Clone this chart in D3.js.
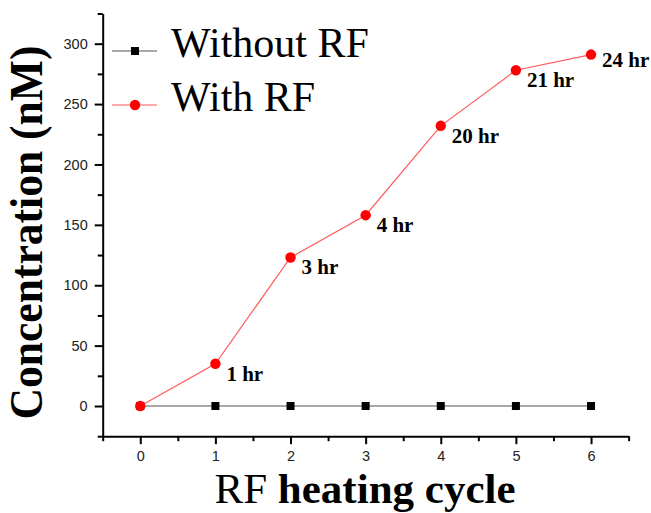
<!DOCTYPE html>
<html>
<head>
<meta charset="utf-8">
<script src="https://cdn.jsdelivr.net/npm/d3@7"></script>
<style>
  html, body { margin: 0; padding: 0; background: #fff; }
  svg { display: block; }
</style>
</head>
<body>
<svg id="chart" width="651" height="513"></svg>
<script>
// ---- data ----
const cycles = [0, 1, 2, 3, 4, 5, 6];
const withoutRF = [0, 0, 0, 0, 0, 0, 0];
const withRF = [0, 35, 123, 158, 232, 278, 291];
const withRFLabels = ["", "1 hr", "3 hr", "4 hr", "20 hr", "21 hr", "24 hr"];
const xTicks = [0, 1, 2, 3, 4, 5, 6];
const yTicks = [0, 50, 100, 150, 200, 250, 300];
const seriesNames = ["Without RF", "With RF"];

// ---- layout ----
const svg = d3.select("#chart");
const x = d3.scaleLinear().domain([-0.5, 6.5]).range([102.7, 628.6]);
const y = d3.scaleLinear().domain([-25, 325]).range([436.2, 13.5]);

const serif = "'Liberation Serif', 'Times New Roman', serif";
const sans = "'Liberation Sans', Arial, sans-serif";

// minor ticks
const xMinor = d3.range(-0.5, 6.51, 1);
const yMinor = d3.range(-25, 326, 50);

function styleAxis(g) {
  g.selectAll("path.domain").attr("stroke", "#000").attr("stroke-width", 2);
  g.selectAll(".tick line").attr("stroke", "#000").attr("stroke-width", 2);
  g.selectAll(".tick text").attr("fill", "#222").style("font-family", sans).style("font-size", "14.5px");
}

// X axis
const gx = svg.append("g").attr("transform", `translate(0,${y(-25)})`);
gx.call(d3.axisBottom(x).tickValues(xTicks).tickSize(8).tickSizeOuter(0).tickPadding(7).tickFormat(d3.format("d")));
styleAxis(gx);
const gxm = svg.append("g").attr("transform", `translate(0,${y(-25)})`);
gxm.call(d3.axisBottom(x).tickValues(xMinor).tickSize(5).tickSizeOuter(0).tickFormat(""));
styleAxis(gxm);
gxm.select("path.domain").remove();

// Y axis
const gy = svg.append("g").attr("transform", `translate(${x(-0.5)},0)`);
gy.call(d3.axisLeft(y).tickValues(yTicks).tickSize(8).tickSizeOuter(0).tickPadding(7).tickFormat(d3.format("d")));
styleAxis(gy);
const gym = svg.append("g").attr("transform", `translate(${x(-0.5)},0)`);
gym.call(d3.axisLeft(y).tickValues(yMinor).tickSize(5).tickSizeOuter(0).tickFormat(""));
styleAxis(gym);
gym.select("path.domain").remove();

// lines
const line = d3.line().x((d, i) => x(cycles[i])).y(d => y(d));
svg.append("path").datum(withoutRF).attr("d", line)
  .attr("fill", "none").attr("stroke", "#555").attr("stroke-width", 1.2);
svg.append("path").datum(withRF).attr("d", line)
  .attr("fill", "none").attr("stroke", "#ff5a5a").attr("stroke-width", 1.2);

// markers
svg.selectAll("rect.sq").data(withoutRF).enter().append("rect")
  .attr("class", "sq")
  .attr("x", (d, i) => x(cycles[i]) - 4).attr("y", d => y(d) - 4)
  .attr("width", 8).attr("height", 8).attr("fill", "#000");
svg.selectAll("circle.ci").data(withRF).enter().append("circle")
  .attr("class", "ci")
  .attr("cx", (d, i) => x(cycles[i])).attr("cy", d => y(d))
  .attr("r", 5.2).attr("fill", "#ff0000");

// point labels
svg.selectAll("text.lab").data(withRF).enter().append("text")
  .attr("class", "lab")
  .attr("x", (d, i) => x(cycles[i]) + 11)
  .attr("y", (d, i) => y(d) + (i === 6 ? 12 : 17))
  .style("font-family", serif).style("font-weight", "bold").style("font-size", "21px")
  .attr("fill", "#000")
  .text((d, i) => withRFLabels[i]);

// legend
const legend = svg.append("g");
const legendItems = [
  { name: seriesNames[0], color: "#555", cy: 51, marker: "square" },
  { name: seriesNames[1], color: "#ff5a5a", cy: 105, marker: "circle" }
];
legendItems.forEach(it => {
  legend.append("line").attr("x1", 112).attr("x2", 157).attr("y1", it.cy).attr("y2", it.cy)
    .attr("stroke", it.color).attr("stroke-width", 1.2);
  if (it.marker === "square") {
    legend.append("rect").attr("x", 131).attr("y", it.cy - 4).attr("width", 8).attr("height", 8).attr("fill", "#000");
  } else {
    legend.append("circle").attr("cx", 135).attr("cy", it.cy).attr("r", 5.2).attr("fill", "#ff0000");
  }
  legend.append("text").attr("x", 171).attr("y", it.cy + 6)
    .style("font-family", serif).style("font-size", "42px").attr("fill", "#000")
    .text(it.name);
});

// axis titles
const xt = svg.append("text").attr("x", 365).attr("y", 503)
  .attr("text-anchor", "middle")
  .style("font-family", serif).style("font-size", "43px").attr("fill", "#000");
xt.append("tspan").text("RF");
xt.append("tspan").style("font-weight", "bold").text(" heating cycle");

svg.append("text")
  .attr("transform", "translate(42,232.5) rotate(-90)")
  .attr("text-anchor", "middle")
  .attr("textLength", 374).attr("lengthAdjust", "spacingAndGlyphs")
  .style("font-family", serif).style("font-weight", "bold").style("font-size", "46px").attr("fill", "#000")
  .text("Concentration (nM)");
</script>
</body>
</html>
